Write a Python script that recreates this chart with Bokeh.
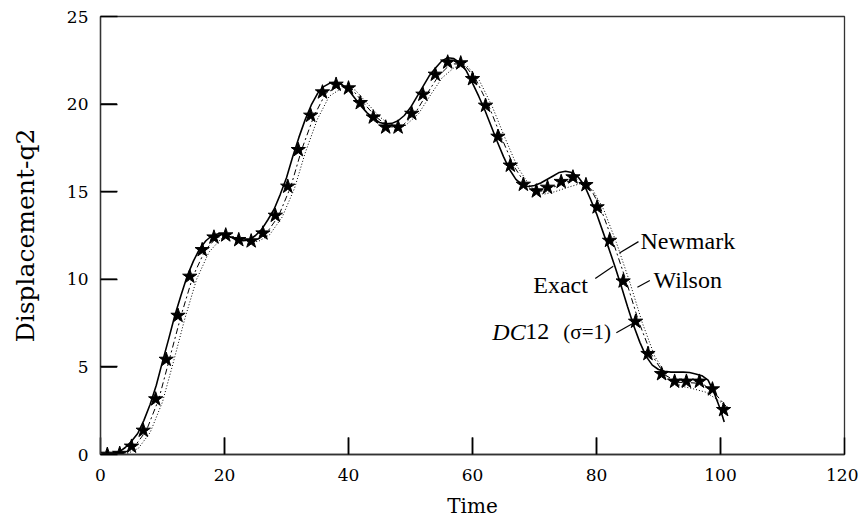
from bokeh.plotting import figure
from bokeh.models import Range1d, FixedTicker, Label
from bokeh.embed import file_html
from bokeh.resources import INLINE

# ---- data ----
star_t = [1.1, 3.1, 5.0, 6.9, 8.9, 10.6, 12.5, 14.4, 16.4, 18.3, 20.2, 22.3, 24.3, 26.2, 28.2,
          30.2, 31.9, 33.9, 35.8, 38.0, 40.0, 41.9, 44.0, 46.0, 48.0, 50.2, 52.0, 54.0, 56.0, 58.1,
          60.0, 62.1, 64.1, 66.1, 68.2, 70.3, 72.1, 74.3, 76.2, 78.3, 80.1, 82.1, 84.3, 86.3, 88.3,
          90.5, 92.6, 94.5, 96.6, 98.7, 100.5]
star_v = [0.0, 0.05, 0.46, 1.37, 3.16, 5.42, 7.93, 10.16, 11.68, 12.40, 12.52, 12.25, 12.18, 12.63, 13.64,
          15.30, 17.39, 19.35, 20.68, 21.12, 20.91, 20.07, 19.25, 18.68, 18.68, 19.46, 20.55, 21.69, 22.39, 22.34,
          21.44, 19.92, 18.15, 16.50, 15.41, 15.03, 15.24, 15.57, 15.83, 15.39, 14.12, 12.21, 9.89, 7.59, 5.75,
          4.60, 4.17, 4.17, 4.17, 3.73, 2.55]

exact_t = [0.5] + list(range(1, 101)) + [100.6]
exact_v = [0.0, 0.0, 0.03, 0.15, 0.4, 0.75, 1.2, 1.95, 2.85, 3.95, 5.3,
           6.6, 7.95, 9.1, 10.2, 11.05, 11.75, 12.2, 12.5, 12.6, 12.55,
           12.4, 12.3, 12.2, 12.25, 12.5, 12.85, 13.4, 14.0, 14.85, 15.8,
           17.0, 18.1, 19.1, 19.95, 20.6, 21.0, 21.2, 21.25, 21.1, 20.8,
           20.35, 19.9, 19.5, 19.2, 18.95, 18.87, 18.9, 19.05, 19.35, 19.8,
           20.4, 21.0, 21.6, 22.05, 22.45, 22.65, 22.6, 22.35, 21.9, 21.2,
           20.45, 19.65, 18.75, 17.85, 17.0, 16.25, 15.7, 15.4, 15.3, 15.35,
           15.5, 15.7, 15.9, 16.1, 16.17, 16.1, 15.85, 15.4, 14.6, 13.75,
           12.75, 11.75, 10.7, 9.6, 8.45, 7.35, 6.4, 5.6, 5.1, 4.85,
           4.75, 4.7, 4.7, 4.7, 4.68, 4.6, 4.5, 4.25, 3.5, 2.55, 1.85]

wilson_t = [0.5, 1.6, 3.6, 5.5, 7.4, 9.4, 11.1, 13.0, 14.9, 16.9, 18.8, 20.7, 22.8, 24.8, 26.7,
            28.7, 30.7, 32.4, 34.4, 36.3, 38.5, 40.5, 42.4, 44.5, 46.5, 48.5, 50.7, 52.5, 54.5,
            56.5, 58.6, 60.5, 62.6, 64.6, 66.6, 68.7, 70.8, 72.6, 74.8, 76.7, 78.8, 80.6, 82.6,
            84.8, 86.8, 88.8, 91.0, 93.1, 95.0, 97.1, 99.2, 101.0]
wilson_v = [0.0, 0.0, 0.05, 0.46, 1.37, 3.16, 5.42, 7.93, 10.16, 11.68, 12.4, 12.5, 12.25, 12.18, 12.6,
            13.6, 15.3, 17.35, 19.3, 20.6, 21.05, 20.88, 20.07, 19.25, 18.7, 18.7, 19.45, 20.5, 21.6,
            22.3, 22.28, 21.44, 19.92, 18.15, 16.5, 15.35, 15.0, 15.2, 15.5, 15.75, 15.35, 14.12, 12.21,
            9.89, 7.59, 5.75, 4.55, 4.12, 4.1, 4.05, 3.45, 2.7]

newmark_t = [0.5, 2.2, 4.2, 6.1, 8.0, 10.0, 11.7, 13.6, 15.5, 17.5, 19.4, 21.3, 23.4, 25.4, 27.3,
             29.3, 31.3, 33.0, 35.0, 36.9, 39.1, 41.1, 43.0, 45.1, 47.1, 49.1, 51.3, 53.1, 55.1,
             57.1, 59.2, 61.1, 63.2, 65.2, 67.2, 69.3, 71.4, 73.3, 75.4, 77.3, 79.4, 81.2, 83.2,
             85.4, 87.4, 89.4, 91.6, 93.7, 95.6, 97.7, 99.8, 101.2]
newmark_v = [0.0, 0.0, 0.03, 0.35, 1.25, 3.0, 5.2, 7.75, 10.0, 11.55, 12.3, 12.45, 12.2, 12.15, 12.55,
             13.55, 15.2, 17.2, 19.15, 20.45, 20.95, 20.8, 20.05, 19.25, 18.72, 18.75, 19.45, 20.45, 21.5,
             22.1, 22.15, 21.35, 19.85, 18.1, 16.45, 15.3, 14.85, 15.0, 15.25, 15.45, 15.1, 13.95, 12.1,
             9.8, 7.5, 5.6, 4.35, 3.9, 3.75, 3.55, 3.05, 2.7]

x_ticks = [0, 20, 40, 60, 80, 100, 120]
y_ticks = [0, 5, 10, 15, 20, 25]
tick_len_y = 0.97   # inward length of x-axis ticks, in y units
tick_len_x = 2.65   # inward length of y-axis ticks, in x units

# annotation labels and leader segments
label_names = ["Newmark", "Wilson", "Exact"]
label_x = [87.1, 89.2, 69.8]
label_y = [12.16, 9.95, 9.66]
dc_x, dc_y = 63.2, 7.0
lead_x0 = [86.77, 88.6, 79.8, 83.2]
lead_y0 = [12.15, 9.93, 10.05, 6.95]
lead_x1 = [83.7, 86.6, 82.7, 86.2]
lead_y1 = [11.5, 9.55, 10.75, 7.55]

AXFONT = "DejaVu Serif"
LBFONT = "Liberation Serif"
INK = "#333333"

p = figure(width=858, height=521, x_range=Range1d(0, 120), y_range=Range1d(0, 25),
           output_backend="svg", toolbar_location=None,
           min_border_left=100, min_border_right=14, min_border_top=16, min_border_bottom=67)
p.grid.visible = False
p.outline_line_color = INK
p.outline_line_width = 1.3
p.background_fill_color = "white"
p.border_fill_color = "white"

for ax, ticks in ((p.xaxis, x_ticks), (p.yaxis, y_ticks)):
    ax.ticker = FixedTicker(ticks=ticks)
    ax.major_tick_in = 17
    ax.major_tick_out = 0
    ax.minor_tick_in = 0
    ax.minor_tick_out = 0
    ax.major_tick_line_color = "black"
    ax.major_tick_line_width = 1.5
    ax.axis_line_color = INK
    ax.axis_line_width = 1.3
    ax.major_label_text_font = AXFONT
    ax.major_label_text_font_size = "17px"
    ax.major_label_text_color = "black"
    ax.axis_label_text_font = AXFONT
    ax.axis_label_text_font_style = "normal"
    ax.axis_label_text_color = "black"

p.xaxis.axis_label = "Time"
p.xaxis.axis_label_text_font_size = "20px"
p.xaxis.major_label_standoff = 14
p.xaxis.axis_label_standoff = 10

p.yaxis.axis_label = "Displacement-q2"
p.yaxis.axis_label_text_font_size = "25px"
p.yaxis.major_label_standoff = 12
p.yaxis.axis_label_standoff = 24

# inward tick marks drawn inside the frame, as plain line glyphs
for t in x_ticks[1:-1]:
    p.line([t, t], [y_ticks[0] + 0.02, y_ticks[0] + tick_len_y], line_color="black", line_width=1.5)
for t in y_ticks[1:-1]:
    p.line([x_ticks[0] + 0.05, x_ticks[0] + tick_len_x], [t, t], line_color="black", line_width=1.5)

# curves
p.line(exact_t, exact_v, line_color="black", line_width=1.6)
p.line(wilson_t, wilson_v, line_color="black", line_width=1.0, line_dash="6 3 2 3")
p.line(newmark_t, newmark_v, line_color="black", line_width=1.0, line_dash="1 2")
p.scatter(star_t, star_v, marker="star", size=15, fill_color="black", line_color="black")

# leaders
p.segment(lead_x0, lead_y0, lead_x1, lead_y1, line_color="black", line_width=1.2)

for name, lx, ly in zip(label_names, label_x, label_y):
    p.add_layout(Label(x=lx, y=ly, text=name, text_font=LBFONT, text_font_size="24px",
                       text_baseline="alphabetic", text_align="left", text_color="black"))

p.add_layout(Label(x=dc_x, y=dc_y, text="DC", text_font=LBFONT, text_font_size="24px",
                   text_font_style="italic", text_baseline="alphabetic", text_color="black"))
p.add_layout(Label(x=dc_x, y=dc_y, x_offset=33, text="12", text_font=LBFONT, text_font_size="24px",
                   text_baseline="alphabetic", text_color="black"))
p.add_layout(Label(x=dc_x, y=dc_y, x_offset=71, text="(σ=1)", text_font=LBFONT, text_font_size="21px",
                   text_baseline="alphabetic", text_color="black"))

open("out.html", "w").write(file_html(p, INLINE))
